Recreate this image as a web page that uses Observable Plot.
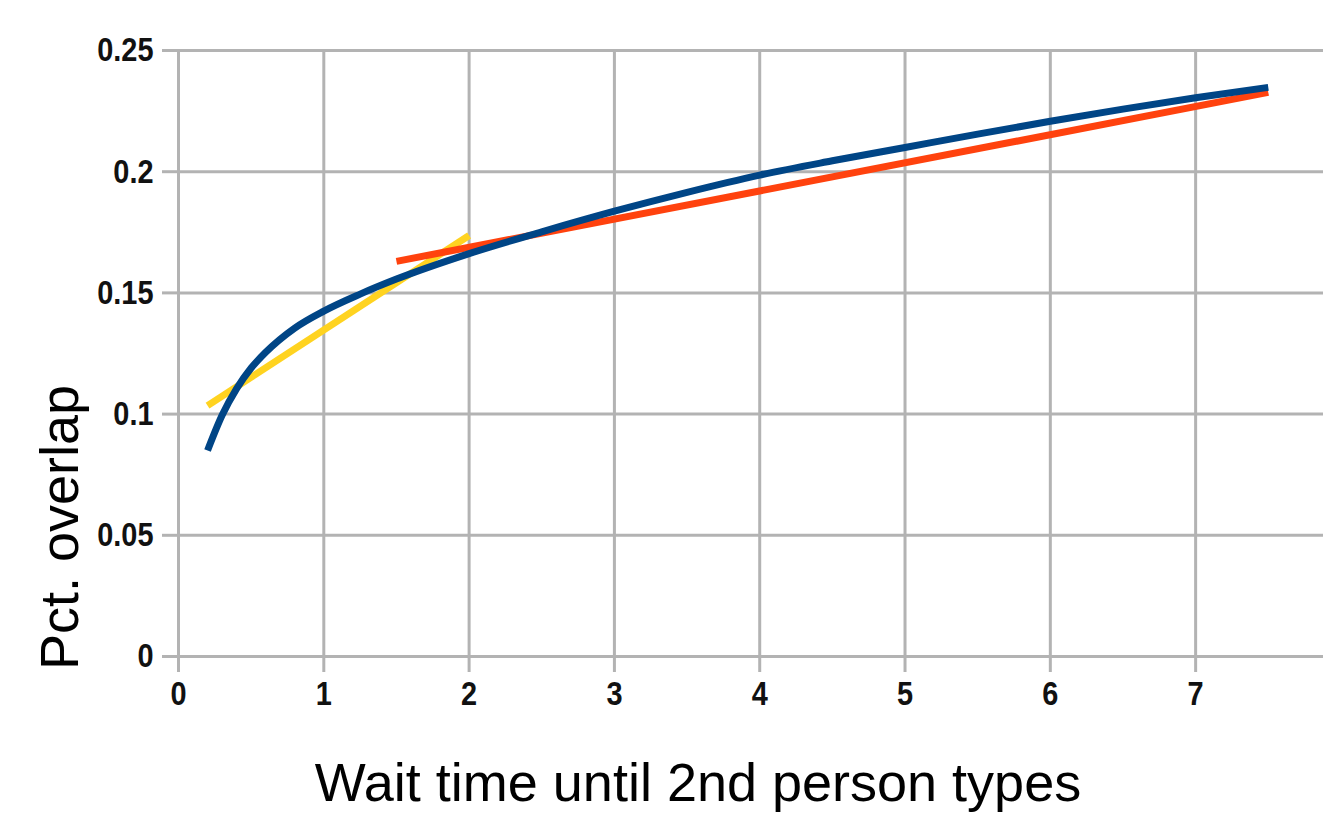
<!DOCTYPE html>
<html>
<head>
<meta charset="utf-8">
<script src="https://cdn.jsdelivr.net/npm/d3@7"></script>
<script src="https://cdn.jsdelivr.net/npm/@observablehq/plot@0.6"></script>
<style>
  html, body { margin: 0; padding: 0; background: #fff; }
  #chart svg { display: block; }
  #chart svg g[aria-label="x-axis tick label"] text,
  #chart svg g[aria-label="y-axis tick label"] text {
    font-family: "Liberation Sans", Arial, sans-serif;
    font-size: 34px;
    font-weight: bold;
  }
</style>
</head>
<body>
<div id="chart"></div>
<script>
// Blue curve (observed)
const blueX = [0.2, 0.3, 0.4, 0.5, 0.6, 0.8, 1.0, 1.25, 1.5, 2.0, 2.5, 3.0, 3.5, 4.0, 4.5, 5.0, 5.5, 6.0, 6.5, 7.0, 7.5];
const blueY = [0.085, 0.0995, 0.1105, 0.119, 0.1255, 0.1355, 0.1425, 0.1495, 0.1557, 0.1662, 0.1752, 0.1837, 0.1915, 0.1986, 0.2045, 0.21, 0.2155, 0.2208, 0.2258, 0.2305, 0.2348];
// Yellow line (short-wait fit)
const yellowX = [0.2, 2.0];
const yellowY = [0.1035, 0.1737];
// Orange line (long-wait fit)
const redX = [1.5, 7.5];
const redY = [0.163, 0.2327];
// Axis ticks
const xTicks = [0, 1, 2, 3, 4, 5, 6, 7];
const yTicks = [0, 0.05, 0.1, 0.15, 0.2, 0.25];
const yTickLabels = ["0", "0.05", "0.1", "0.15", "0.2", "0.25"];
const xTitle = "Wait time until 2nd person types";
const yTitle = "Pct. overlap";

const toRows = (xs, ys) => xs.map((x, i) => ({x, y: ys[i]}));
const blue = toRows(blueX, blueY);
const yellow = toRows(yellowX, yellowY);
const red = toRows(redX, redY);

const grid = "#b3b3b3";
const font = "Liberation Sans, Arial, sans-serif";

const chart = Plot.plot({
  width: 1323,
  height: 813,
  marginLeft: 178,
  marginRight: 0,
  marginTop: 50,
  marginBottom: 157,
  style: {fontFamily: font, fontSize: "30px", background: "#fff", color: "#000"},
  x: {domain: [0, 7.88]},
  y: {domain: [0, 0.25]},
  marks: [
    Plot.gridX(xTicks, {stroke: grid, strokeOpacity: 1, strokeWidth: 3}),
    Plot.gridY(yTicks, {stroke: grid, strokeOpacity: 1, strokeWidth: 3}),
    Plot.axisX({ticks: xTicks, tickSize: 16, tickPadding: 8, stroke: grid, strokeWidth: 3, fill: "#111", label: null, tickFormat: d => String(d)}),
    Plot.axisY({ticks: yTicks, tickSize: 16, tickPadding: 9, stroke: grid, strokeWidth: 3, fill: "#111", label: null, tickFormat: d => yTickLabels[yTicks.indexOf(d)]}),
    Plot.line(yellow, {x: "x", y: "y", stroke: "#ffd320", strokeWidth: 7, strokeLinecap: "butt"}),
    Plot.line(red, {x: "x", y: "y", stroke: "#ff420e", strokeWidth: 7, strokeLinecap: "butt"}),
    Plot.line(blue, {x: "x", y: "y", stroke: "#004586", strokeWidth: 7, strokeLinecap: "butt", curve: "monotone-x"}),
    Plot.text([xTitle], {text: d => d, frameAnchor: "bottom", lineAnchor: "bottom", dy: 144, dx: -53, fontSize: 54, fill: "#000"}),
    Plot.text([yTitle], {text: d => d, frameAnchor: "left", rotate: -90, lineAnchor: "bottom", textAnchor: "middle", dx: -101, dy: 174, fontSize: 54, fill: "#000"})
  ]
});
// Narrow the tick labels horizontally, like the reference's condensed digits
d3.select(chart).selectAll('g[aria-label="x-axis tick label"] text, g[aria-label="y-axis tick label"] text')
  .attr("transform", function() {
    const t = this.getAttribute("transform") || "";
    return t + " scale(0.85,1)";
  });
document.getElementById("chart").appendChild(chart);
</script>
</body>
</html>
